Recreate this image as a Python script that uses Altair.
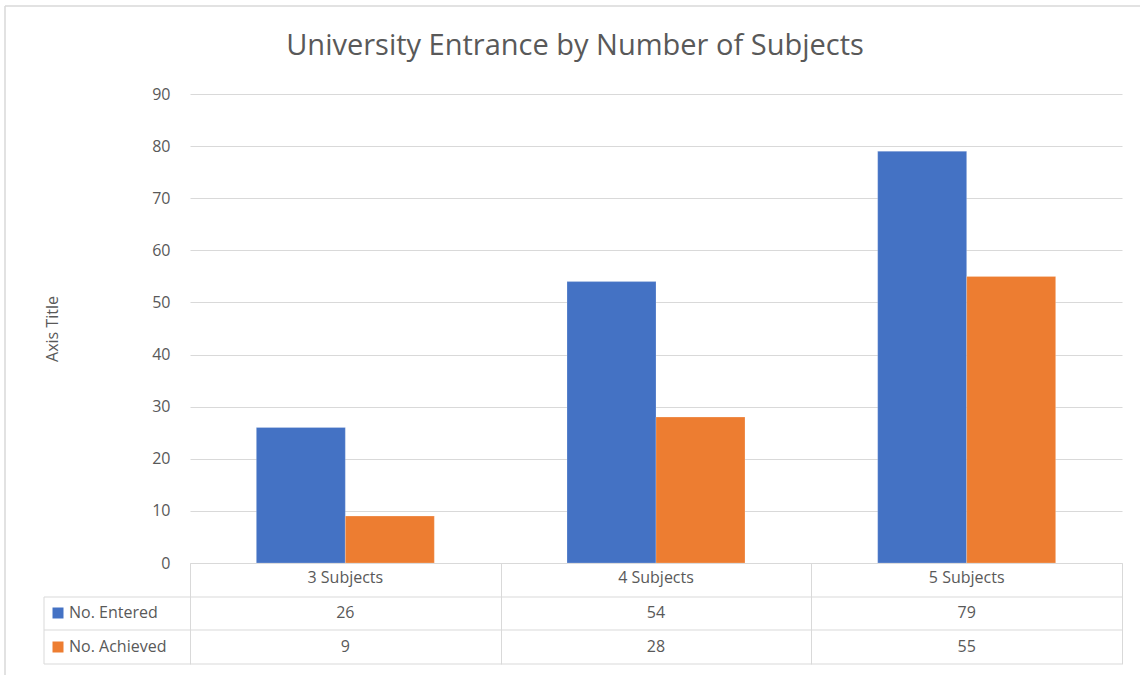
import altair as alt
import pandas as pd

categories = ["3 Subjects", "4 Subjects", "5 Subjects"]
series = ["No. Entered", "No. Achieved"]
entered = [26, 54, 79]
achieved = [9, 28, 55]
colors = ["#4472C4", "#ED7D31"]
y_ticks = [0, 10, 20, 30, 40, 50, 60, 70, 80, 90]
title_text = "University Entrance by Number of Subjects"
y_title = "Axis Title"

rows = []
for s, vals in zip(series, [entered, achieved]):
    for c, v in zip(categories, vals):
        rows.append({"category": c, "series": s, "value": v})
df = pd.DataFrame(rows)

W, H = 932, 469
GRID = "#d9d9d9"
TXT = "#595959"
FONT = "Open Sans"

base = alt.Chart(df)

x_enc = alt.X(
    "category:N",
    sort=categories,
    scale=alt.Scale(domain=categories, paddingInner=0, paddingOuter=0),
    axis=alt.Axis(
        title=None, labels=False, domain=True, domainColor=GRID, ticks=True,
        tickBand="extent", tickSize=101, tickColor=GRID, grid=False,
    ),
)
color_enc = alt.Color("series:N", scale=alt.Scale(domain=series, range=colors), legend=None)

bars = base.mark_bar(stroke="white", strokeOpacity=0.35, strokeWidth=0.6).encode(
    x=x_enc,
    xOffset=alt.XOffset("series:N", sort=series,
                        scale=alt.Scale(domain=series, paddingInner=0, paddingOuter=0.7455)),
    y=alt.Y(
        "value:Q",
        scale=alt.Scale(domain=[0, 90], nice=False),
        axis=alt.Axis(
            values=y_ticks, title=y_title, titleFontSize=16, titleColor=TXT,
            titleFontWeight="normal", titleFont=FONT, titleX=-130, titleY=H / 2,
            titleAngle=270, labelFontSize=16, labelColor=TXT, labelFont=FONT,
            labelPadding=20, domain=False, ticks=False, grid=True, gridColor=GRID,
        ),
    ),
    color=color_enc,
)

cat_df = pd.DataFrame({"category": categories})
header = alt.Chart(cat_df).mark_text(fontSize=16, color=TXT, font=FONT, baseline="middle").encode(
    x=alt.X("category:N", sort=categories), y=alt.value(484), text="category:N"
)

layers = [bars, header]
row_y = [519, 553]
for i, s in enumerate(series):
    sub = base.transform_filter(alt.datum.series == s)
    layers.append(
        sub.mark_text(fontSize=16, color=TXT, font=FONT, baseline="middle").encode(
            x=alt.X("category:N", sort=categories), y=alt.value(row_y[i]), text="value:Q"
        )
    )
    lab = alt.Chart(pd.DataFrame({"series": [s]}))
    layers.append(
        lab.mark_text(fontSize=16, color=TXT, font=FONT, align="left", baseline="middle").encode(
            x=alt.value(-121), y=alt.value(row_y[i]), text="series:N"
        )
    )
    layers.append(
        lab.mark_square(size=121, opacity=1).encode(
            x=alt.value(-132), y=alt.value(row_y[i]), color=color_enc
        )
    )

one = alt.Chart(pd.DataFrame({"k": [0]}))
for yy in [503, 536, 570]:
    layers.append(one.mark_rule(color=GRID, strokeWidth=1).encode(
        x=alt.value(-146), x2=alt.value(W), y=alt.value(yy)))
layers.append(one.mark_rule(color=GRID, strokeWidth=1).encode(
    x=alt.value(-146), y=alt.value(503), y2=alt.value(570)))
# outer chart border (left/top)
layers.append(one.mark_rule(color=GRID, strokeWidth=1.5).encode(
    x=alt.value(-185), y=alt.value(-88), y2=alt.value(600)))
layers.append(one.mark_rule(color=GRID, strokeWidth=1.5).encode(
    x=alt.value(-185), x2=alt.value(W + 30), y=alt.value(-88)))
# title
layers.append(one.mark_text(fontSize=29, color=TXT, font=FONT, align="center", baseline="middle").encode(
    x=alt.value(385), y=alt.value(-48), text=alt.value(title_text)))

chart = alt.layer(*layers).properties(
    width=W, height=H,
    background="white",
    autosize=alt.AutoSizeParams(type="none"),
    padding={"left": 190, "top": 94, "right": 18, "bottom": 112},
).configure_view(stroke=None)

chart.save("out.html", embed_options={"renderer": "svg", "actions": False})
